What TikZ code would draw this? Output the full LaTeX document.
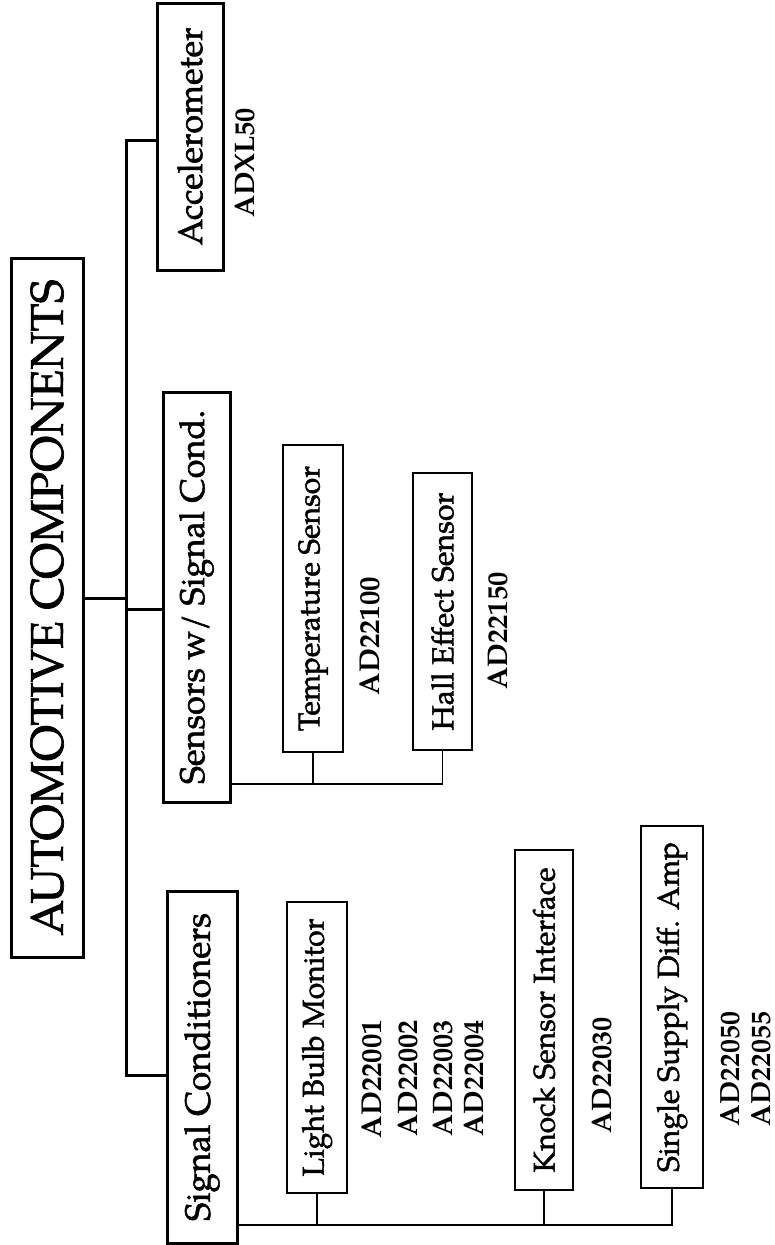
\documentclass[tikz,border=0pt]{standalone}
\usepackage{fontspec}
\setmainfont{TeX Gyre Pagella}
\newfontfamily\heavyfont{TeX Gyre Pagella}[FakeBold=1.5]
\usepackage{graphicx}
\newcommand{\rtext}[2]{\rotatebox{90}{\resizebox{#1pt}{!}{#2}}}
\begin{document}
\begin{tikzpicture}[x=1pt,y=-1pt,
  bigbox/.style={draw,line width=3pt,inner sep=0pt,fill=white,font=\heavyfont},
  subbox/.style={draw,line width=1.8pt,inner sep=0pt,fill=white,font=\heavyfont},
  part/.style={inner sep=0pt,font=\bfseries},
  trunkline/.style={line width=3pt},
  twig/.style={line width=1.6pt}]
\useasboundingbox (0,0) rectangle (775,1245);
% main boxes
\node[bigbox,minimum width=72pt,minimum height=699pt] (title) at (47,607.5) {\rtext{656}{AUTOMOTIVE COMPONENTS}};
\node[bigbox,minimum width=66pt,minimum height=267pt] (acc) at (190,136.5) {\rtext{218}{Accelerometer}};
\node[bigbox,minimum width=67pt,minimum height=410pt] (sen) at (196.5,597) {\rtext{374}{Sensors w/ Signal Cond.}};
\node[bigbox,minimum width=70pt,minimum height=352pt] (sig) at (202,1067) {\rtext{308}{Signal Conditioners}};
% sub boxes
\node[subbox,minimum width=60pt,minimum height=307pt] (temp) at (313,598.5) {\rtext{265}{Temperature Sensor}};
\node[subbox,minimum width=59pt,minimum height=277pt] (hall) at (442.5,611.5) {\rtext{238}{Hall Effect Sensor}};
\node[subbox,minimum width=60pt,minimum height=291pt] (light) at (317,1047.5) {\rtext{258}{Light Bulb Monitor}};
\node[subbox,minimum width=58pt,minimum height=340pt] (knock) at (544,1020) {\rtext{305}{Knock Sensor Interface}};
\node[subbox,minimum width=62pt,minimum height=362pt] (ssd) at (672,1007) {\rtext{330}{Single Supply Diff. Amp}};
% part numbers
\node[part] (pAcc) at (245,162.5) {\rtext{109}{ADXL50}};
\node[part] (pTemp) at (370,636) {\rtext{118}{AD22100}};
\node[part] (pHall) at (498,631) {\rtext{117}{AD22150}};
\node[part] (pL1) at (372,1079) {\rtext{118}{AD22001}};
\node[part] (pL2) at (408,1078) {\rtext{116}{AD22002}};
\node[part] (pL3) at (443,1078) {\rtext{116}{AD22003}};
\node[part] (pL4) at (474,1078) {\rtext{116}{AD22004}};
\node[part] (pKnock) at (602,1075) {\rtext{116}{AD22030}};
\node[part] (pS1) at (730,1069) {\rtext{114}{AD22050}};
\node[part] (pS2) at (761,1069) {\rtext{114}{AD22055}};
% trunk
\coordinate (tTop) at (126,140);
\coordinate (tBot) at (126,1075);
\coordinate (tMid) at (126,598);
\coordinate (tSen) at (126,609);
\draw[trunkline] (acc.west |- tTop) -- (tTop) -- (tBot) -- (sig.west |- tBot);
\draw[trunkline] (title.east |- tMid) -- (tMid);
\draw[trunkline] (tSen) -- (sen.west |- tSen);
% sensor subtree
\coordinate (sBus) at (0,784);
\draw[twig] (sen.east |- sBus) -- (hall.south |- sBus) -- (hall.south);
\draw[twig] (temp.south) -- (temp.south |- sBus);
% signal conditioner subtree
\coordinate (cBus) at (0,1225);
\draw[twig] (sig.east |- cBus) -- (ssd.south |- cBus) -- (ssd.south);
\draw[twig] (light.south) -- (light.south |- cBus);
\draw[twig] (knock.south) -- (knock.south |- cBus);
\end{tikzpicture}
\end{document}
